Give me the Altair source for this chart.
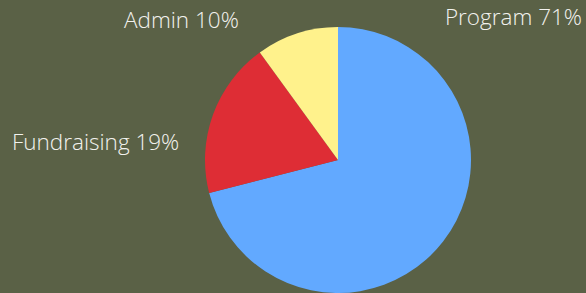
import altair as alt
import pandas as pd

categories = ["Program", "Fundraising", "Admin"]
shares = [71, 19, 10]
colors = ["#62a9ff", "#de2d35", "#fff28c"]
labels = ["Program 71%", "Fundraising 19%", "Admin 10%"]

BG = "#5a6146"

df = pd.DataFrame({"category": categories, "share": shares,
                   "order": list(range(len(categories)))})

pie = alt.Chart(df).mark_arc(radius=133, stroke=None).encode(
    theta=alt.Theta("share:Q", stack=True),
    order=alt.Order("order:Q"),
    color=alt.Color("category:N", scale=alt.Scale(domain=categories, range=colors), legend=None),
    x=alt.value(338),
    y=alt.value(160),
)

label_pos = {"Program 71%": (582, 25, "right"), "Fundraising 19%": (12, 150, "left"),
             "Admin 10%": (124, 28, "left")}
layers = [pie]
for lab in labels:
    px, py, al = label_pos[lab]
    layers.append(
        alt.Chart(pd.DataFrame({"label": [lab]})).mark_text(
            align=al, baseline="alphabetic", font="Open Sans", fontSize=22.5,
            fontWeight=300, color="#f2f2ee"
        ).encode(text="label:N", x=alt.value(px), y=alt.value(py))
    )

chart = alt.layer(*layers).properties(
    width=586, height=293, background=BG, padding=0,
    autosize=alt.AutoSizeParams(type="none"),
).configure_view(stroke=None)

chart.save("out.html", embed_options={"renderer": "svg", "actions": False,
                                      "defaultStyle": "body{margin:0;background:#5a6146;overflow:hidden;}"})
